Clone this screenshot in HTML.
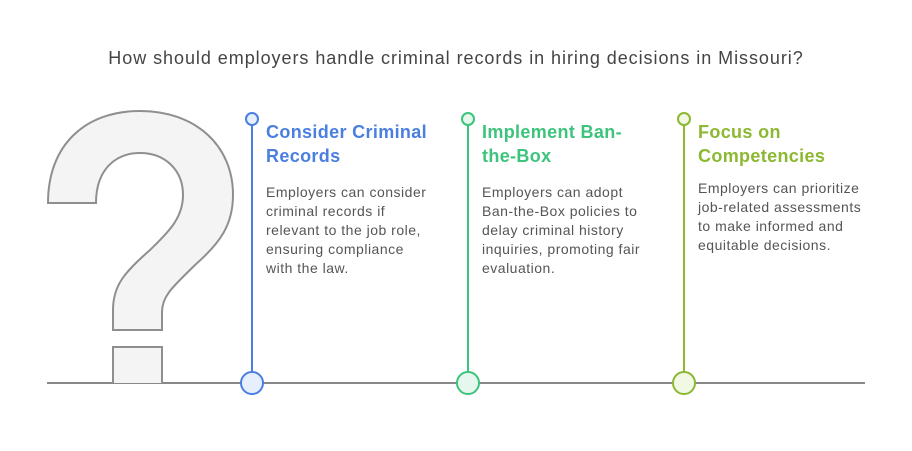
<!DOCTYPE html>
<html><head><style>
body{margin:0;width:912px;height:451px;background:#fff;position:relative;font-family:"Liberation Sans",Arial,sans-serif;overflow:hidden}
.t{position:absolute;top:48px;left:0;width:912px;text-align:center;font-size:18px;color:#444;letter-spacing:0.95px}
.h{position:absolute;font-size:18px;font-weight:bold;line-height:24px;letter-spacing:0.35px}
.p{position:absolute;font-size:14px;color:#555;line-height:19px;letter-spacing:0.5px}
</style></head><body>
<div class="t">How should employers handle criminal records in hiring decisions in Missouri?</div>
<svg width="912" height="451" style="position:absolute;left:0;top:0">
<line x1="47" y1="383" x2="865" y2="383" stroke="#888" stroke-width="2"/>
<path d="M48,203 L96,203 C96,170 115,153 140,153 C165,153 183,170 183,195 C183,220 165,235 150,250 C125,272 113,285 113,310 L113,330 L162,330 L162,312 C162,295 175,285 195,265 C220,243 233,225 233,195 C233,145 195,111 140,111 C85,111 48,145 48,203 Z" fill="#f4f4f4" stroke="#8f8f8f" stroke-width="2"/>
<path d="M113,383 L113,347 L162,347 L162,383" fill="#f4f4f4" stroke="#8f8f8f" stroke-width="2"/>
<line x1="252" y1="125" x2="252" y2="372" stroke="#4a7fe0" stroke-width="2"/>
<circle cx="252" cy="119" r="6" fill="#e8effc" stroke="#4a7fe0" stroke-width="2"/>
<circle cx="252" cy="383" r="11" fill="#e8effc" stroke="#4a7fe0" stroke-width="2"/>
<line x1="468" y1="125" x2="468" y2="372" stroke="#3cc47c" stroke-width="2"/>
<circle cx="468" cy="119" r="6" fill="#e6f8ee" stroke="#3cc47c" stroke-width="2"/>
<circle cx="468" cy="383" r="11" fill="#e6f8ee" stroke="#3cc47c" stroke-width="2"/>
<line x1="684" y1="125" x2="684" y2="372" stroke="#8cb832" stroke-width="2"/>
<circle cx="684" cy="119" r="6" fill="#f1f8e4" stroke="#8cb832" stroke-width="2"/>
<circle cx="684" cy="383" r="11" fill="#f1f8e4" stroke="#8cb832" stroke-width="2"/>
</svg>
<div class="h" style="left:266px;top:120px;color:#4a7fe0">Consider Criminal<br>Records</div>
<div class="p" style="left:266px;top:183px">Employers can consider<br>criminal records if<br>relevant to the job role,<br>ensuring compliance<br>with the law.</div>
<div class="h" style="left:482px;top:120px;color:#3cc47c">Implement Ban-<br>the-Box</div>
<div class="p" style="left:482px;top:183px">Employers can adopt<br>Ban-the-Box policies to<br>delay criminal history<br>inquiries, promoting fair<br>evaluation.</div>
<div class="h" style="left:698px;top:120px;color:#8cb832">Focus on<br>Competencies</div>
<div class="p" style="left:698px;top:179px">Employers can prioritize<br>job-related assessments<br>to make informed and<br>equitable decisions.</div>
</body></html>
